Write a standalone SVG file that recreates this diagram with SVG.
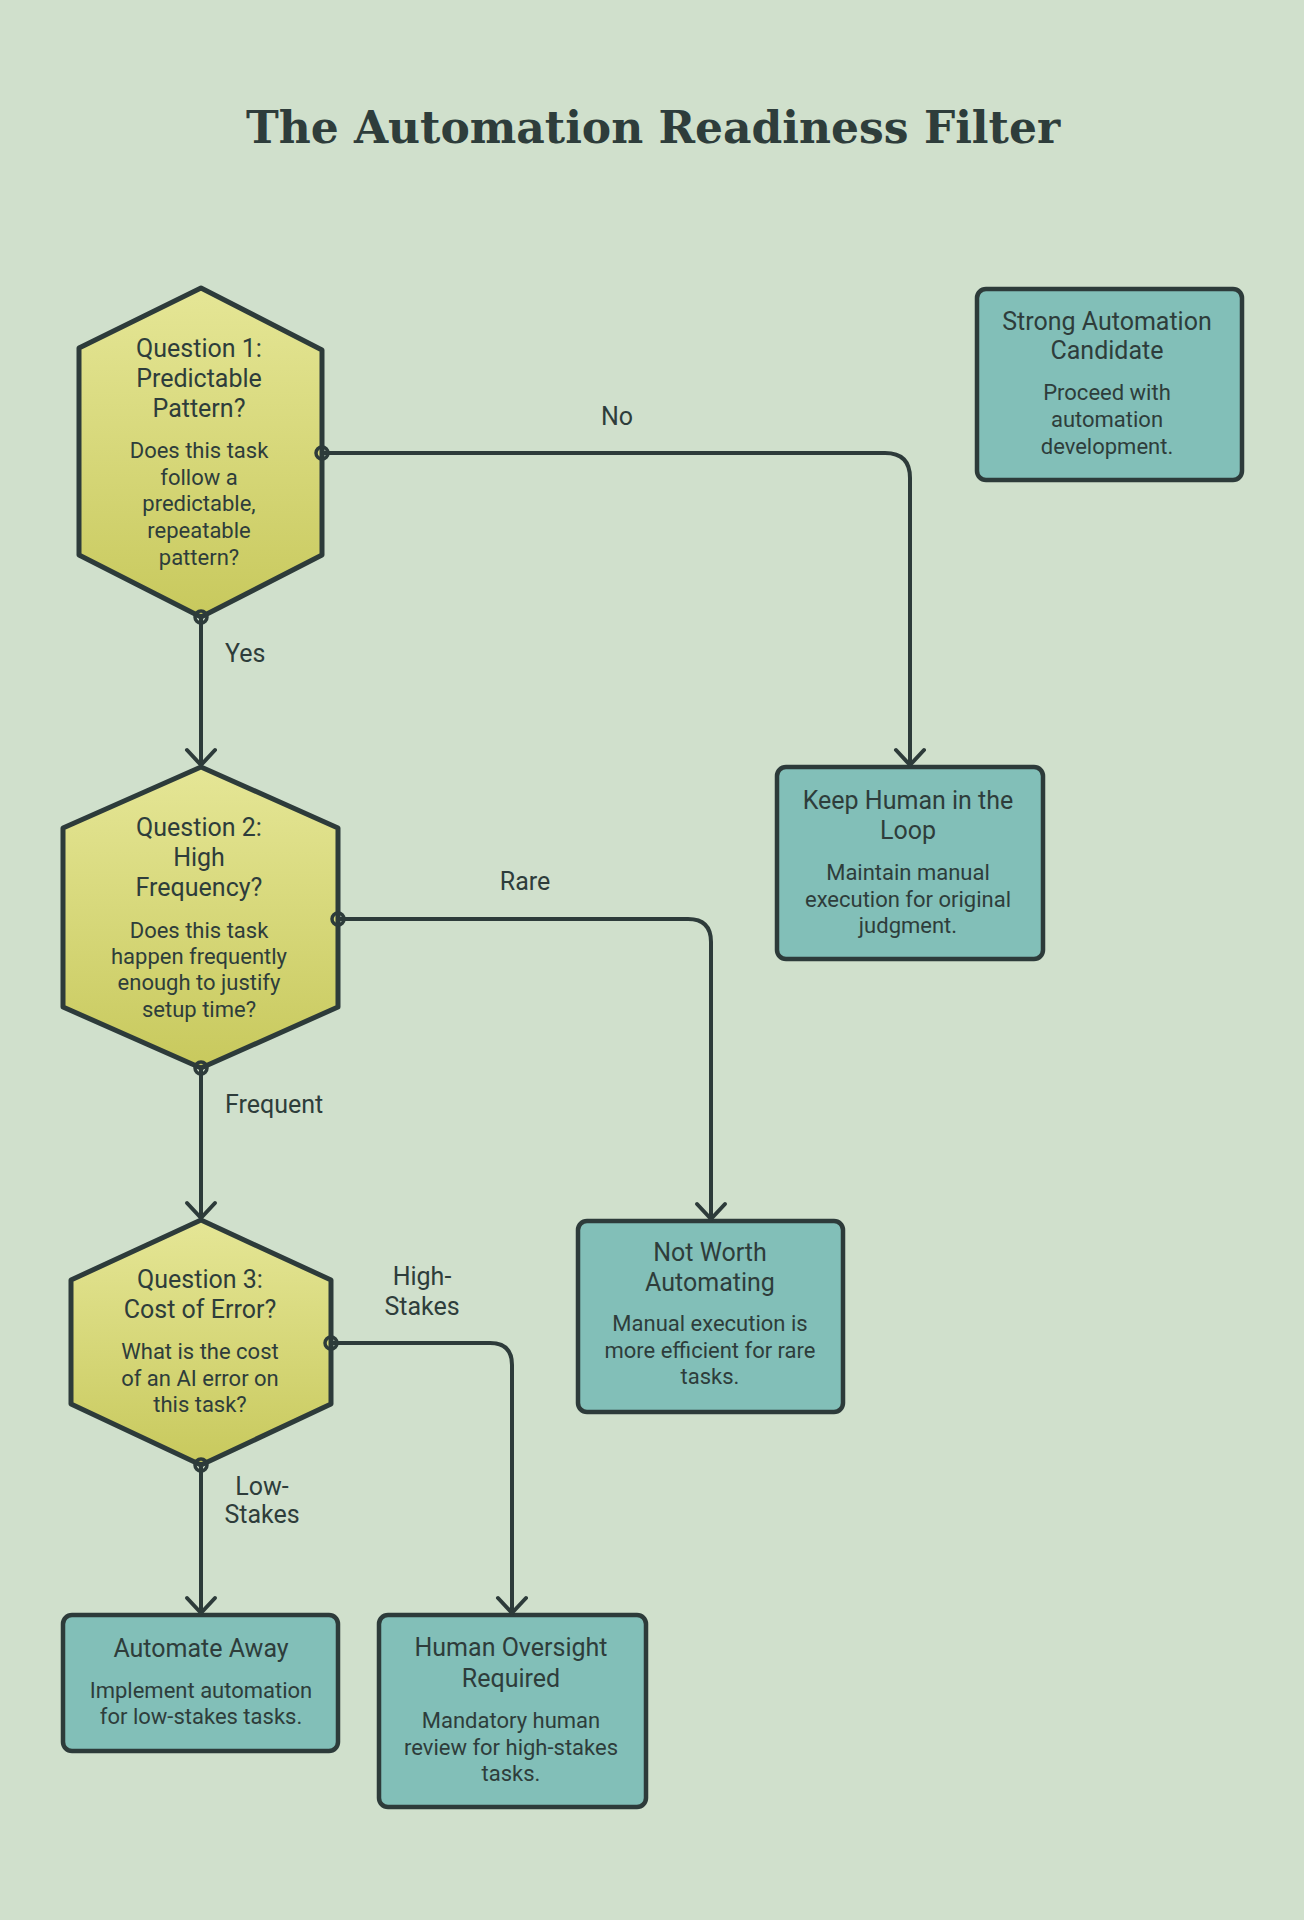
<svg xmlns="http://www.w3.org/2000/svg" width="1304" height="1920" viewBox="0 0 1304 1920">
  <style>
    .title { font-family: "DejaVu Serif", "Liberation Serif", serif; font-weight: bold; font-size: 44px; fill: #2e3d3b; text-anchor: middle; }
    .nt { font-family: Roboto, "Liberation Sans", sans-serif; font-size: 25px; fill: #2e3d3b; text-anchor: middle; }
    .nd { font-family: Roboto, "Liberation Sans", sans-serif; font-size: 22px; fill: #2e3d3b; text-anchor: middle; }
    .lbl { font-family: Roboto, "Liberation Sans", sans-serif; font-size: 25px; fill: #2e3d3b; }
    .hex { fill: url(#hexGrad); stroke: #2d3b3a; stroke-width: 5; stroke-linejoin: round; }
    .box { fill: #82bfb8; stroke: #2d3b3a; stroke-width: 4.5; }
    .edge { fill: none; stroke: #2d3b3a; stroke-width: 4; stroke-linecap: round; marker-end: url(#arrow); }
    .dot { fill: none; stroke: #2d3b3a; stroke-width: 3.5; }
  </style>
  <defs>
    <linearGradient id="hexGrad" x1="0" y1="0" x2="0" y2="1">
      <stop offset="0" stop-color="#e5e696"/>
      <stop offset="1" stop-color="#c8c95d"/>
    </linearGradient>
    <marker id="arrow" markerUnits="userSpaceOnUse" markerWidth="40" markerHeight="40" viewBox="-20 -20 40 40" refX="0" refY="0" orient="auto">
      <path d="M-15,-14 L0,0 L-15,14" fill="none" stroke="#2d3b3a" stroke-width="4" stroke-linecap="round" stroke-linejoin="round"/>
    </marker>
  </defs>
  <rect width="1304" height="1920" fill="#d0e0cc"/>
  <text class="title" x="653" y="143">The Automation Readiness Filter</text>

  <g id="q1">
    <polygon class="hex" points="201,288 322,350 322,555 201,617 79,555 79,348"/>
    <text class="nt" x="199" y="357">Question 1:</text>
    <text class="nt" x="199" y="387">Predictable</text>
    <text class="nt" x="199" y="417">Pattern?</text>
    <text class="nd" x="199" y="458">Does this task</text>
    <text class="nd" x="199" y="485">follow a</text>
    <text class="nd" x="199" y="511">predictable,</text>
    <text class="nd" x="199" y="538">repeatable</text>
    <text class="nd" x="199" y="565">pattern?</text>
  </g>

  <g id="q2">
    <polygon class="hex" points="201,767 338,828 338,1007 201,1068 63,1007 63,828"/>
    <text class="nt" x="199" y="836">Question 2:</text>
    <text class="nt" x="199" y="866">High</text>
    <text class="nt" x="199" y="896">Frequency?</text>
    <text class="nd" x="199" y="938">Does this task</text>
    <text class="nd" x="199" y="964">happen frequently</text>
    <text class="nd" x="199" y="990">enough to justify</text>
    <text class="nd" x="199" y="1017">setup time?</text>
  </g>

  <g id="q3">
    <polygon class="hex" points="201,1220 331,1280 331,1404 201,1465 71,1404 71,1280"/>
    <text class="nt" x="200" y="1288">Question 3:</text>
    <text class="nt" x="200" y="1318">Cost of Error?</text>
    <text class="nd" x="200" y="1359">What is the cost</text>
    <text class="nd" x="200" y="1386">of an AI error on</text>
    <text class="nd" x="200" y="1412">this task?</text>
  </g>

  <g id="strong">
    <rect class="box" x="977" y="289" width="265" height="191" rx="9"/>
    <text class="nt" x="1107" y="330">Strong Automation</text>
    <text class="nt" x="1107" y="359">Candidate</text>
    <text class="nd" x="1107" y="400">Proceed with</text>
    <text class="nd" x="1107" y="427">automation</text>
    <text class="nd" x="1107" y="454">development.</text>
  </g>

  <g id="keep">
    <rect class="box" x="777" y="767" width="266" height="192" rx="9"/>
    <text class="nt" x="908" y="809">Keep Human in the</text>
    <text class="nt" x="908" y="839">Loop</text>
    <text class="nd" x="908" y="880">Maintain manual</text>
    <text class="nd" x="908" y="907">execution for original</text>
    <text class="nd" x="908" y="933">judgment.</text>
  </g>

  <g id="notworth">
    <rect class="box" x="578" y="1221" width="265" height="191" rx="9"/>
    <text class="nt" x="710" y="1261">Not Worth</text>
    <text class="nt" x="710" y="1291">Automating</text>
    <text class="nd" x="710" y="1331">Manual execution is</text>
    <text class="nd" x="710" y="1358">more efficient for rare</text>
    <text class="nd" x="710" y="1384">tasks.</text>
  </g>

  <g id="automate">
    <rect class="box" x="63" y="1615" width="275" height="136" rx="9"/>
    <text class="nt" x="201" y="1657">Automate Away</text>
    <text class="nd" x="201" y="1698">Implement automation</text>
    <text class="nd" x="201" y="1724">for low-stakes tasks.</text>
  </g>

  <g id="oversight">
    <rect class="box" x="379" y="1615" width="267" height="192" rx="9"/>
    <text class="nt" x="511" y="1656">Human Oversight</text>
    <text class="nt" x="511" y="1687">Required</text>
    <text class="nd" x="511" y="1728">Mandatory human</text>
    <text class="nd" x="511" y="1755">review for high-stakes</text>
    <text class="nd" x="511" y="1781">tasks.</text>
  </g>

  <g id="connectors">
    <path class="edge" d="M201,617 V765"/>
    <path class="edge" d="M322,453 H885 Q910,453 910,478 V765"/>
    <path class="edge" d="M338,919 H688 Q711,919 711,942 V1219"/>
    <path class="edge" d="M201,1068 V1218"/>
    <path class="edge" d="M331,1343 H490 Q512,1343 512,1365 V1613"/>
    <path class="edge" d="M201,1465 V1613"/>
    <circle class="dot" cx="322" cy="453" r="6"/>
    <circle class="dot" cx="201" cy="617" r="6"/>
    <circle class="dot" cx="338" cy="919" r="6"/>
    <circle class="dot" cx="201" cy="1068" r="6"/>
    <circle class="dot" cx="331" cy="1343" r="6"/>
    <circle class="dot" cx="201" cy="1465" r="6"/>
    <text class="lbl" x="225" y="662">Yes</text>
    <text class="lbl" x="601" y="425">No</text>
    <text class="lbl" x="525" y="890" text-anchor="middle">Rare</text>
    <text class="lbl" x="225" y="1113">Frequent</text>
    <text class="lbl" x="422" y="1285" text-anchor="middle">High-</text>
    <text class="lbl" x="422" y="1315" text-anchor="middle">Stakes</text>
    <text class="lbl" x="262" y="1495" text-anchor="middle">Low-</text>
    <text class="lbl" x="262" y="1523" text-anchor="middle">Stakes</text>
  </g>
</svg>
